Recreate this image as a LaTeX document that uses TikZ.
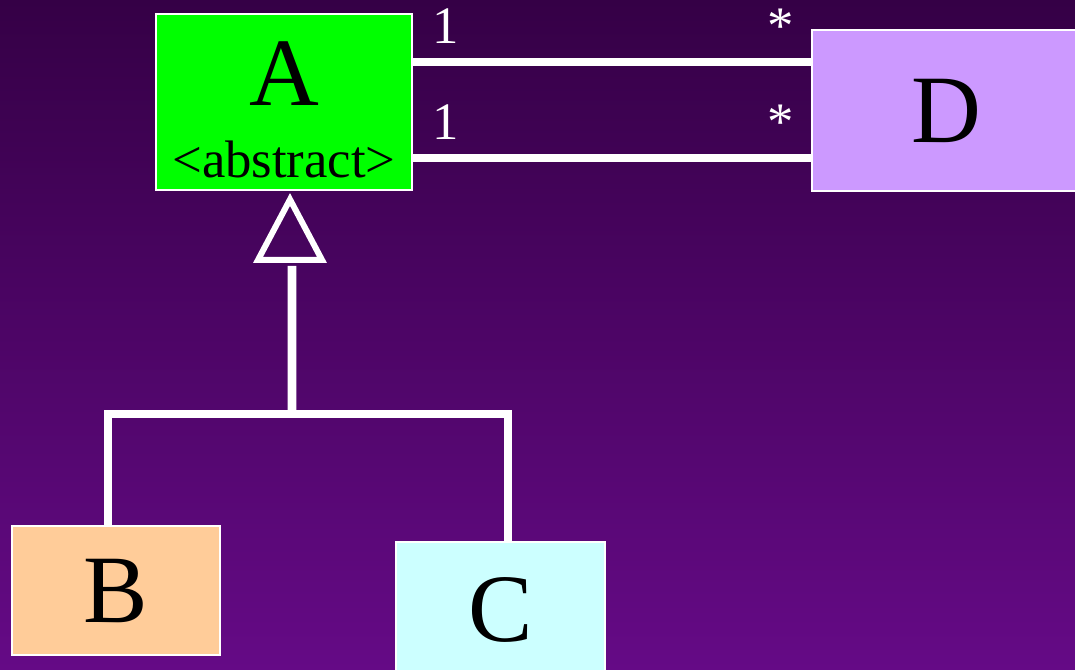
\documentclass[tikz,border=0pt]{standalone}
\usepackage{fontspec}
\setmainfont{Liberation Serif}
\usepackage{tikz}
\usetikzlibrary{positioning,calc}
\definecolor{bgtop}{RGB}{53,0,70}
\definecolor{bgbottom}{RGB}{101,10,134}
\definecolor{absgreen}{RGB}{0,255,0}
\definecolor{classD}{RGB}{204,153,255}
\definecolor{classB}{RGB}{255,204,153}
\definecolor{classC}{RGB}{204,255,255}
\tikzset{
  classbox/.style={draw=white, line width=1.1pt, inner sep=0pt, align=center,
    font={\fontsize{55pt}{41pt}\selectfont}},
  assoc/.style={draw=white, line width=5.1pt},
  gen/.style={draw=white, line width=5.1pt},
  mult/.style={text=white, inner sep=0pt, font={\fontsize{30pt}{36pt}\selectfont}}
}
\begin{document}
\begin{tikzpicture}

% Background
\fill[top color=bgtop, bottom color=bgbottom] (0,0) rectangle (21.5,-13.4);
\useasboundingbox (0,0) rectangle (21.5,-13.4);

% Classes
\node[classbox, fill=absgreen, minimum width=5.12cm, minimum height=3.52cm] (A) at (5.68,-2.04)
  {\rule{0pt}{45.5pt}A\\{\fontsize{30pt}{36pt}\selectfont <abstract>}};
\node[classbox, fill=classD, minimum width=5.36cm, minimum height=3.22cm] (D) at (18.92,-2.21) {D};
\node[classbox, fill=classB, minimum width=4.16cm, minimum height=2.58cm] (B) at (2.32,-11.81) {B};
\node[classbox, fill=classC, minimum width=4.18cm, minimum height=2.72cm] (C) at (10.01,-12.2) {C};

% Associations A -- D with multiplicities
\draw[assoc] ([yshift=0.8cm]A.east) -- ([yshift=0.8cm]A.east -| D.west)
  node[mult, pos=0, anchor=base, xshift=0.66cm, yshift=0.36cm] (m1a) {1}
  node[mult, pos=1, anchor=base, xshift=-0.61cm, yshift=0.36cm] (m1d) {*};
\draw[assoc] ([yshift=-1.12cm]A.east) -- ([yshift=-1.12cm]A.east -| D.west)
  node[mult, pos=0, anchor=base, xshift=0.66cm, yshift=0.36cm] (m2a) {1}
  node[mult, pos=1, anchor=base, xshift=-0.61cm, yshift=0.36cm] (m2d) {*};

% Generalization: hollow triangle, stem and bus to B and C
\coordinate (tip) at ([shift={(0.12,-0.17)}]A.south);
\draw[white, line width=3.4pt] (tip) -- ++(0.64,-1.21) -- ++(-1.28,0) -- cycle;
\coordinate (stem) at ([shift={(0.04,-1.33)}]tip);
\coordinate (bus) at (5.84,-8.28);
\draw[gen] (stem) -- (bus);
\draw[gen] ([xshift=-0.16cm]B.north) |- (bus) -| ([xshift=0.15cm]C.north);

\end{tikzpicture}
\end{document}
